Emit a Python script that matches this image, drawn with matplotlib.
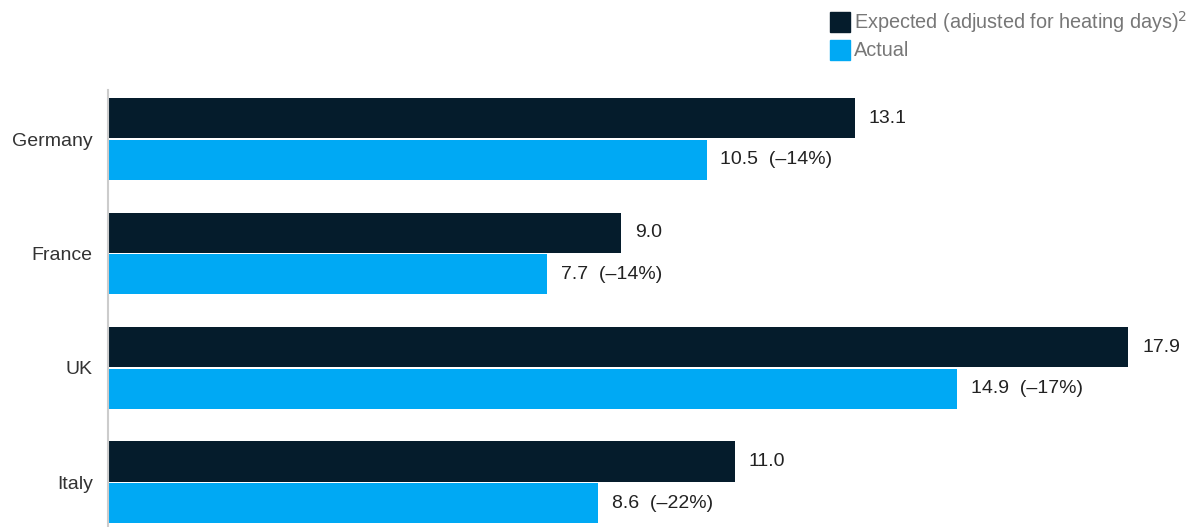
import numpy as np
import matplotlib.pyplot as plt
from matplotlib.patches import Rectangle

plt.rcParams["font.family"] = ["Liberation Sans", "DejaVu Sans"]

countries = ["Germany", "France", "UK", "Italy"]
expected = [13.1, 9.0, 17.9, 11.0]
actual = [10.5, 7.7, 14.9, 8.6]
change_pct = ["–14%", "–14%", "–17%", "–22%"]

dark = "#051C2C"
blue = "#00A9F4"

W, H = 1203, 527
fig = plt.figure(figsize=(W / 100, H / 100), dpi=100)
ax = fig.add_axes([108 / W, 0, 1 - 108 / W, (H - 90) / H])

y = np.arange(len(countries))
h = 0.35
ax.barh(y - 0.183, expected, height=h, color=dark)
ax.barh(y + 0.183, actual, height=h, color=blue)

ax.set_xlim(0, (W - 108) / 57.0)
ax.set_ylim(3.389, -0.428)

for i in range(len(countries)):
    ax.annotate(f"{expected[i]:.1f}", (expected[i], y[i] - 0.183), xytext=(10, 0),
                textcoords="offset points", va="center", ha="left", fontsize=14, color="#222222")
    ax.annotate(f"{actual[i]:.1f}  ({change_pct[i]})", (actual[i], y[i] + 0.183), xytext=(10, 0),
                textcoords="offset points", va="center", ha="left", fontsize=14, color="#222222")

ax.set_yticks(y)
ax.set_yticklabels(countries, fontsize=14, color="#333333")
ax.tick_params(axis="y", length=0, pad=11)
ax.set_xticks([])
for s in ["top", "right", "bottom"]:
    ax.spines[s].set_visible(False)
ax.spines["left"].set_color("#cccccc")
ax.spines["left"].set_linewidth(1.5)

# legend drawn by hand, top right
for k, (lab, col) in enumerate([("Expected (adjusted for heating days)$^2$", dark), ("Actual", blue)]):
    top = 12 + k * 28
    fig.patches.append(Rectangle((830 / W, 1 - (top + 20) / H), 20 / W, 20 / H,
                                 transform=fig.transFigure, color=col))
    fig.text(854 / W, 1 - (top + 10) / H, lab, fontsize=14.3, color="#777777", va="center", ha="left")

fig.savefig("out.png", dpi=100)
